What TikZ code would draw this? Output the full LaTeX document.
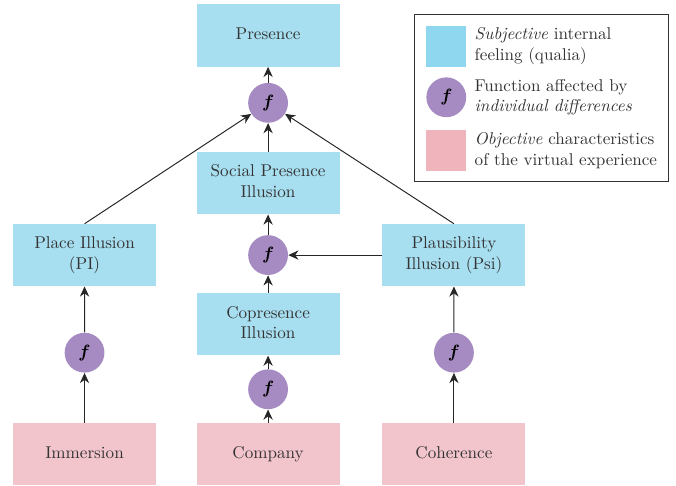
\documentclass[tikz,border=0pt]{standalone}
\usepackage{amsmath}
\usepackage{xcolor}
\usepackage{tikz}
\usetikzlibrary{arrows.meta, positioning, calc, fit}

\definecolor{qualia}{HTML}{A7DEF0}
\definecolor{qualiadark}{HTML}{8FD6EF}
\definecolor{objective}{HTML}{F2C4CC}
\definecolor{objectivedark}{HTML}{F0B4BC}
\definecolor{funcpurple}{HTML}{A58BC2}
\definecolor{inktext}{HTML}{333333}

\begin{document}
\begin{tikzpicture}[
  subj/.style={fill=qualia, minimum width=3.09cm, minimum height=1.34cm, text width=2.8cm, align=center, text=inktext,
    execute at begin node=\strut, execute at end node=\strut},
  obj/.style={fill=objective, minimum width=3.09cm, minimum height=1.34cm, text width=2.8cm, align=center, text=inktext,
    execute at begin node=\strut, execute at end node=\strut},
  func/.style={circle, fill=funcpurple, minimum size=0.86cm, inner sep=0pt, text=black},
  legsq/.style={minimum width=0.86cm, minimum height=0.88cm, inner sep=0pt},
  legtext/.style={align=left, anchor=west, text=inktext, inner sep=0pt},
  arrow/.style={-{Stealth[length=2.2mm, width=2mm]}, semithick, draw=black!85},
  every node/.style={font=\fontsize{10.5}{12.8}\selectfont}
]

% MIDDLE COLUMN
\node[obj] (company) {Company};
\node[func, above=0.29cm of company] (cf) {$\boldsymbol{f}$};
\node[subj, above=0.29cm of cf] (copres) {Copresence\\Illusion};
\node[func, above=0.38cm of copres] (sf) {$\boldsymbol{f}$};
\node[subj, above=0.44cm of sf] (social) {Social Presence\\Illusion};
\node[func, above=0.62cm of social] (pf) {$\boldsymbol{f}$};
\node[subj, above=0.34cm of pf] (presence) {Presence};

% LEFT COLUMN
\node[obj, left=0.86cm of company] (immersion) {Immersion};
\node[func, above=1.08cm of immersion] (pif) {$\boldsymbol{f}$};
\node[subj, left=1.975cm of sf] (pi) {Place Illusion\\(PI)};

% RIGHT COLUMN
\node[obj, right=0.91cm of company] (coherence) {Coherence};
\node[func, above=1.08cm of coherence] (psif) {$\boldsymbol{f}$};
\node[subj, right=2.025cm of sf] (psi) {Plausibility\\Illusion (Psi)};

% Connections
\draw[arrow] (company) -- (cf);
\draw[arrow] (cf) -- (copres);
\draw[arrow] (copres) -- (sf);
\draw[arrow] (sf) -- (social);
\draw[arrow] (social) -- (pf);
\draw[arrow] (pf) -- (presence);
\draw[arrow] (immersion) -- (pif);
\draw[arrow] (pif) -- (pi);
\draw[arrow] (coherence) -- (psif);
\draw[arrow] (psif) -- (psi);
\draw[arrow] (psi) -- (sf);
\draw[arrow] (pi.north) -- (pf);
\draw[arrow] (psi.north) -- (pf);

% LEGEND
\node[legsq, fill=qualiadark, right=1.86cm of presence, yshift=-0.23cm] (legsubj) {};
\node[func, below=0.22cm of legsubj] (legfunc) {$\boldsymbol{f}$};
\node[legsq, fill=objectivedark, below=0.26cm of legfunc] (legobj) {};
\node[legtext, right=0.17cm of legsubj] (legsubjtext) {\textit{Subjective} internal\\feeling (qualia)};
\node[legtext, right=0.17cm of legfunc] (legfunctext) {Function affected by\\\textit{individual differences}};
\node[legtext, right=0.17cm of legobj] (legobjtext) {\textit{Objective} characteristics\\of the virtual experience};
\node[draw=black!80, semithick, inner xsep=0.24cm, inner ysep=0.23cm,
  fit=(legsubj) (legobj) (legsubjtext) (legfunctext) (legobjtext)] (legend) {};

\useasboundingbox ($(company.south)+(-5.79,0)$) rectangle ($(presence.north)+(8.81,0.09)$);
\end{tikzpicture}
\end{document}
